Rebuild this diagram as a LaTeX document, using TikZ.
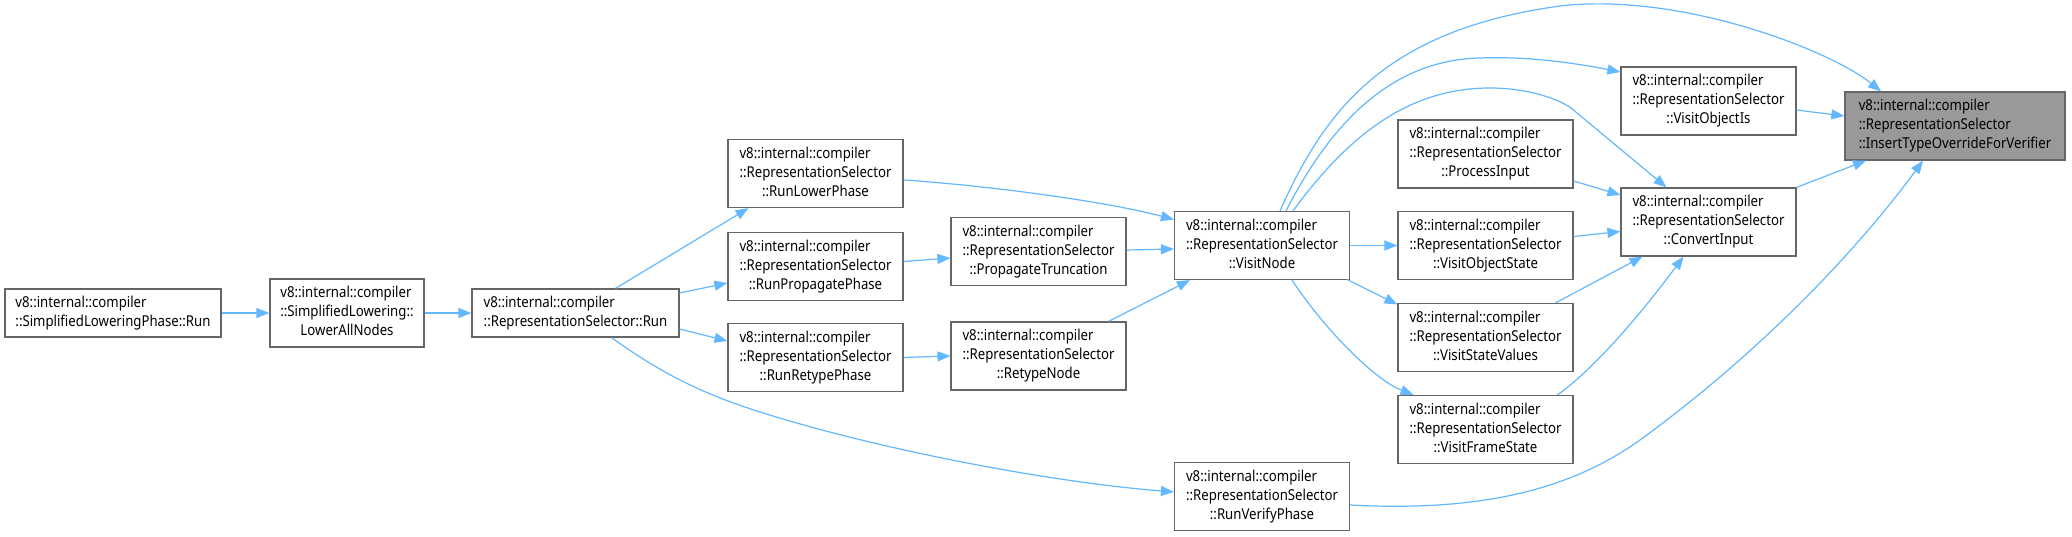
\documentclass[tikz,border=0pt]{standalone}
\usepackage{fontspec}
\setmainfont{Noto Sans}[FakeStretch=0.88]
\usetikzlibrary{arrows.meta,calc}
\definecolor{edgeblue}{HTML}{63B8FF}
\definecolor{boxborder}{HTML}{666666}
\definecolor{hlfill}{HTML}{999999}
\newcommand\nfont{\fontsize{15}{19}\selectfont}
\newcommand\threeline[3]{\begin{tabular}{@{}l@{}}#1\\#2\\\multicolumn{1}{@{}c@{}}{#3}\end{tabular}}
\newcommand\twoline[2]{\begin{tabular}{@{}l@{}}#1\\#2\end{tabular}}
\tikzset{
  box/.style={draw=boxborder, line width=1.2pt, fill=white, inner sep=0pt,
    minimum width=175pt, minimum height=68pt, font=\nfont},
  hlbox/.style={box, fill=hlfill},
  edge/.style={draw=edgeblue, line width=1.2pt, -{Triangle[length=13pt,width=10pt]}}
}
\begin{document}
\begin{tikzpicture}[x=1pt,y=-1pt]
\useasboundingbox[fill=white] (0,0) rectangle (2072,537);
% nodes
\node[box, minimum width=216pt, minimum height=48pt] (N1) at (113,313) {\twoline{v8::internal::compiler}{::SimplifiedLoweringPhase::Run}};
\node[box, minimum width=154pt] (N2) at (347,313) {\threeline{v8::internal::compiler}{::SimplifiedLowering::}{LowerAllNodes}};
\node[box, minimum width=207pt, minimum height=48pt] (N3) at (575.5,313) {\twoline{v8::internal::compiler}{::RepresentationSelector::Run}};
\node[box] (N4) at (815.5,173.5) {\threeline{v8::internal::compiler}{::RepresentationSelector}{::RunLowerPhase}};
\node[box] (N5) at (815.5,266.5) {\threeline{v8::internal::compiler}{::RepresentationSelector}{::RunPropagatePhase}};
\node[box] (N6) at (815.5,357.5) {\threeline{v8::internal::compiler}{::RepresentationSelector}{::RunRetypePhase}};
\node[box] (N7) at (1038.5,251.5) {\threeline{v8::internal::compiler}{::RepresentationSelector}{::PropagateTruncation}};
\node[box] (N8) at (1038.5,356) {\threeline{v8::internal::compiler}{::RepresentationSelector}{::RetypeNode}};
\node[box] (N9) at (1262,245.5) {\threeline{v8::internal::compiler}{::RepresentationSelector}{::VisitNode}};
\node[box] (N10) at (1262,496.5) {\threeline{v8::internal::compiler}{::RepresentationSelector}{::RunVerifyPhase}};
\node[box] (N11) at (1485.5,154) {\threeline{v8::internal::compiler}{::RepresentationSelector}{::ProcessInput}};
\node[box] (N12) at (1485.5,245.5) {\threeline{v8::internal::compiler}{::RepresentationSelector}{::VisitObjectState}};
\node[box] (N13) at (1485.5,337.5) {\threeline{v8::internal::compiler}{::RepresentationSelector}{::VisitStateValues}};
\node[box] (N14) at (1485.5,429.5) {\threeline{v8::internal::compiler}{::RepresentationSelector}{::VisitFrameState}};
\node[box] (N15) at (1708.5,101) {\threeline{v8::internal::compiler}{::RepresentationSelector}{::VisitObjectIs}};
\node[box] (N16) at (1708.5,222) {\threeline{v8::internal::compiler}{::RepresentationSelector}{::ConvertInput}};
\node[hlbox, minimum width=220pt] (N17) at (1955,126) {\threeline{v8::internal::compiler}{::RepresentationSelector}{::InsertTypeOverrideForVerifier}};
% edges
\draw[edge] (N1.east) -- (N2.west);
\draw[edge] (N2.west -| N2.east) -- (N3.west);
\draw[edge] ([xshift=40pt]N3.north) -- ([xshift=-67pt]N4.south);
\draw[edge] ($(N3.east)+(0,-20)$) -- ($(N5.west)+(0,16.5)$);
\draw[edge] ($(N3.east)+(0,16)$) -- ($(N6.west)+(0,-16.5)$);
\draw[edge] ([xshift=36pt]N3.south) .. controls (650,365) and (690,390) .. (760,412) .. controls (880,450) and (1050,482) .. ($(N10.west)+(0,-4.5)$);
\draw[edge] ($(N4.east)+(0,6.5)$) .. controls (980,185) and (1100,200) .. ($(N9.west)+(0,-26)$);
\draw[edge] ($(N5.east)+(0,-5)$) -- ($(N7.west)+(0,6.5)$);
\draw[edge] (N6.east) -- (N8.west);
\draw[edge] ($(N7.east)+(0,-1.5)$) -- ($(N9.west)+(0,3.5)$);
\draw[edge] ([xshift=70pt]N8.north) -- ([xshift=-72pt]N9.south);
\draw[edge] (N9.east) -- (N12.west);
\draw[edge] ($(N9.east)+(-3,34)$) -- ($(N13.west)+(0,-33)$);
\draw[edge] ([xshift=30pt]N9.south) .. controls (1325,330) and (1375,380) .. ([xshift=-72pt]N14.north);
\draw[edge] ([xshift=18pt]N9.north) .. controls (1325,110) and (1385,30) .. (1560,6) .. controls (1680,-8) and (1830,50) .. ([xshift=-74pt]N17.north);
\draw[edge] ([xshift=24pt]N9.north) .. controls (1330,125) and (1390,60) .. (1480,58) .. controls (1530,56) and (1580,64) .. ($(N15.west)+(0,-29)$);
\draw[edge] ([xshift=31pt]N9.north) .. controls (1345,140) and (1405,88) .. (1490,88) .. controls (1530,88) and (1560,100) .. (1571,108) -- ([xshift=-42pt]N16.north);
\draw[edge] ($(N10.east)+(0,8.5)$) .. controls (1480,512) and (1570,490) .. (1640,440) .. controls (1750,360) and (1850,260) .. ([xshift=-32pt]N17.south);
\draw[edge] ($(N11.east)+(0,27)$) -- ($(N16.west)+(0,-27)$);
\draw[edge] ($(N12.east)+(0,-9)$) -- ($(N16.west)+(0,9.5)$);
\draw[edge] ([xshift=70pt]N13.north) -- ([xshift=-66pt]N16.south);
\draw[edge] ([xshift=72pt]N14.north) .. controls (1595,368) and (1640,315) .. ([xshift=-25pt]N16.south);
\draw[edge] ($(N15.east)+(0,9)$) -- ($(N17.west)+(0,-10)$);
\draw[edge] ([xshift=88pt]N16.north) -- ([xshift=-89pt]N17.south);
\end{tikzpicture}
\end{document}
